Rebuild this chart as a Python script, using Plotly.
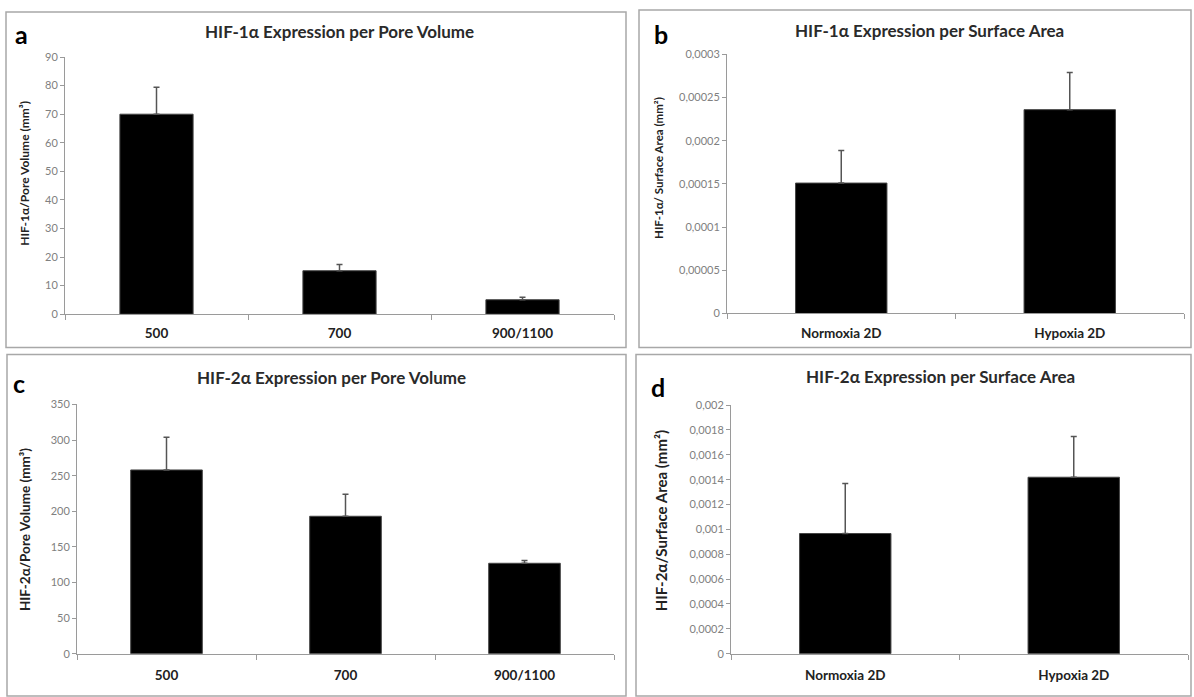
import plotly.graph_objects as go

W, H = 1194, 697

# ---------------- data ----------------
pore_categories = ["500", "700", "900/1100"]
surface_categories = ["Normoxia 2D", "Hypoxia 2D"]

hif1_pore_values = [70.0, 15.2, 5.05]
hif1_pore_err = [9.4, 2.2, 0.85]

hif1_surf_values = [0.000151, 0.000236]
hif1_surf_err = [0.0000376, 0.000043]

hif2_pore_values = [258, 193, 127]
hif2_pore_err = [46, 31, 4]

hif2_surf_values = [0.000967, 0.00142]
hif2_surf_err = [0.000403, 0.000328]

a_ticks = [0, 10, 20, 30, 40, 50, 60, 70, 80, 90]
b_ticks = [0, 0.00005, 0.0001, 0.00015, 0.0002, 0.00025, 0.0003]
b_ticklabels = ["0", "0,00005", "0,0001", "0,00015", "0,0002", "0,00025", "0,0003"]
c_ticks = [0, 50, 100, 150, 200, 250, 300, 350]
d_ticks = [0, 0.0002, 0.0004, 0.0006, 0.0008, 0.001, 0.0012, 0.0014, 0.0016, 0.0018, 0.002]
d_ticklabels = ["0", "0,0002", "0,0004", "0,0006", "0,0008", "0,001", "0,0012",
                "0,0014", "0,0016", "0,0018", "0,002"]

titles = ["HIF-1α Expression per Pore Volume", "HIF-1α Expression per Surface Area",
          "HIF-2α Expression per Pore Volume", "HIF-2α Expression per Surface Area"]
ytitles = ["HIF-1α/Pore Volume (mm³)", "HIF-1α/ Surface Area (mm²)",
           "HIF-2α/Pore Volume (mm³)", "HIF-2α/Surface Area (mm²)"]
letters = ["a", "b", "c", "d"]

# ---------------- helpers ----------------
def px(x):
    return x / W

def py(y):
    return 1 - y / H

FONT = "Lato, 'Open Sans', sans-serif"
AXIS_GREY = "#9a9a9a"

fig = go.Figure()

panels = [
    dict(cats=pore_categories, vals=hif1_pore_values, err=hif1_pore_err,
         xd=(65, 614), yd=(51, 313), yr=[0, 90], tv=a_ticks, tt=[str(t) for t in a_ticks],
         title_xy=(340, 25), letter_xy=(21, 28), yt_xy=(25, 170), yt_size=12, stand=7),
    dict(cats=surface_categories, vals=hif1_surf_values, err=hif1_surf_err,
         xd=(727, 1184), yd=(48.3, 312.3), yr=[0, 0.0003], tv=b_ticks, tt=b_ticklabels,
         title_xy=(929, 24), letter_xy=(661, 28), yt_xy=(659, 164), yt_size=11.5, stand=7),
    dict(cats=pore_categories, vals=hif2_pore_values, err=hif2_pore_err,
         xd=(77, 614), yd=(405, 659), yr=[0, 350], tv=c_ticks, tt=[str(t) for t in c_ticks],
         title_xy=(331, 378), letter_xy=(19, 383), yt_xy=(25, 533), yt_size=13.5, stand=9),
    dict(cats=surface_categories, vals=hif2_surf_values, err=hif2_surf_err,
         xd=(731, 1188), yd=(405.7, 659), yr=[0, 0.002], tv=d_ticks, tt=d_ticklabels,
         title_xy=(940, 377), letter_xy=(658, 387), yt_xy=(661, 524), yt_size=15, stand=9),
]

annotations = []
layout_axes = {}
for i, p in enumerate(panels):
    n = i + 1
    xa = "x" if n == 1 else f"x{n}"
    ya = "y" if n == 1 else f"y{n}"
    fig.add_trace(go.Bar(
        x=p["cats"], y=p["vals"], xaxis=xa, yaxis=ya,
        marker=dict(color="black", line=dict(color="#444444", width=1)),
        width=0.4,
        error_y=dict(type="data", symmetric=False, array=p["err"],
                     arrayminus=[0] * len(p["err"]),
                     color="#555555", thickness=1.5, width=3),
        showlegend=False, hoverinfo="skip",
    ))
    xkey = "xaxis" if n == 1 else f"xaxis{n}"
    ykey = "yaxis" if n == 1 else f"yaxis{n}"
    layout_axes[xkey] = dict(
        domain=[px(p["xd"][0]), px(p["xd"][1])], anchor=ya,
        range=[-0.5, len(p["cats"]) - 0.5], type="category",
        showline=True, linecolor=AXIS_GREY, linewidth=1,
        ticks="outside", tickson="boundaries", ticklen=5, tickcolor=AXIS_GREY,
        ticklabelstandoff=p["stand"],
        showgrid=False, zeroline=False,
        tickfont=dict(family=FONT, size=13.5, color="#222222", weight="bold"),
    )
    layout_axes[ykey] = dict(
        domain=[py(p["yd"][1]), py(p["yd"][0])], anchor=xa,
        range=p["yr"], showline=True, linecolor=AXIS_GREY, linewidth=1,
        ticks="outside", ticklen=4, tickcolor=AXIS_GREY,
        tickvals=p["tv"], ticktext=p["tt"],
        showgrid=False, zeroline=False,
        tickfont=dict(family=FONT, size=11, color="#808080"),
    )
    annotations.append(dict(
        text=titles[i], x=px(p["title_xy"][0]), y=py(p["title_xy"][1]),
        xref="paper", yref="paper", showarrow=False, xanchor="center", yanchor="middle",
        font=dict(family=FONT, size=17, color="#2a2a2a", weight="bold"),
    ))
    annotations.append(dict(
        text=letters[i], x=px(p["letter_xy"][0]), y=py(p["letter_xy"][1]),
        xref="paper", yref="paper", showarrow=False, xanchor="center", yanchor="middle",
        font=dict(family=FONT, size=25, color="black", weight="bold"),
    ))
    annotations.append(dict(
        text=ytitles[i], x=px(p["yt_xy"][0]), y=py(p["yt_xy"][1]),
        xref="paper", yref="paper", showarrow=False, xanchor="center", yanchor="middle",
        textangle=-90,
        font=dict(family=FONT, size=p["yt_size"], color="#222222", weight="bold"),
    ))

# panel borders
shapes = []
for (x0, y0, x1, y1) in [(6, 5, 626, 347), (639, 3, 1191, 347),
                         (7, 354, 626, 702), (636, 354, 1191, 702)]:
    shapes.append(dict(type="rect", xref="paper", yref="paper",
                       x0=px(x0), x1=px(x1), y0=py(y1), y1=py(y0),
                       line=dict(color="#a8a8a8", width=1.5), fillcolor="rgba(0,0,0,0)"))

fig.update_layout(
    width=W, height=H, margin=dict(l=0, r=0, t=0, b=0),
    paper_bgcolor="white", plot_bgcolor="white",
    annotations=annotations, shapes=shapes,
    **layout_axes,
)

fig.write_html("out.html")
